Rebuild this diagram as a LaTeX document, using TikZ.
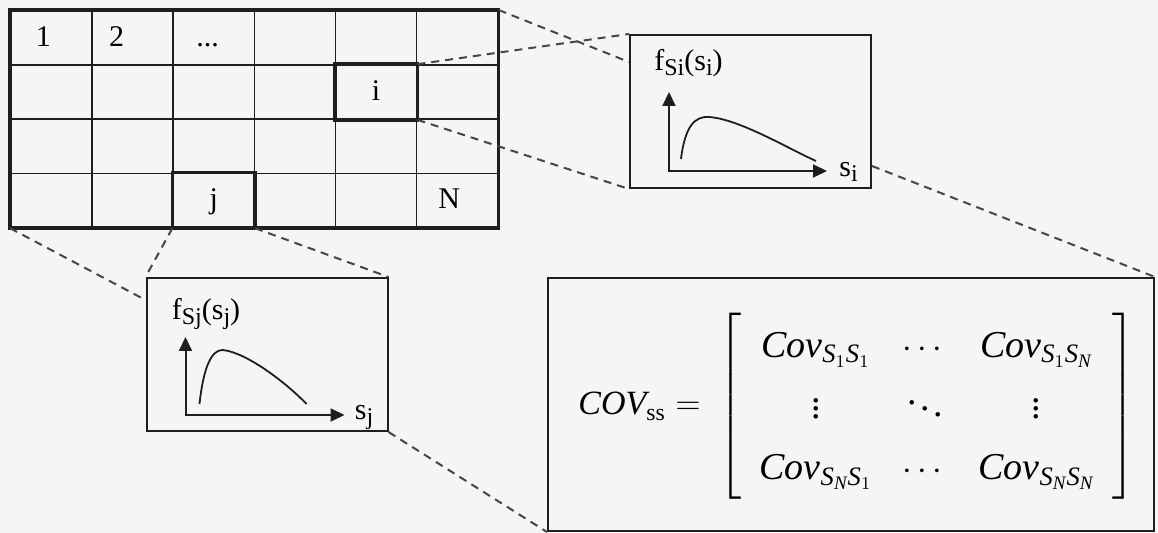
\documentclass[tikz,border=0pt]{standalone}
\usepackage{amsmath}
\usepackage{fontspec}
\setmainfont{Liberation Serif}
\usepackage{tikz}
\usetikzlibrary{
  arrows.meta,
  positioning
}
\definecolor{gridInk}{RGB}{30,30,30}
\definecolor{zoomGray}{RGB}{70,70,70}
\definecolor{paperGray}{RGB}{244,245,247}
\newcommand{\covij}[2]{\mathit{Cov}_{\mathit{S}_{#1}\mathit{S}_{#2}}}
\newcommand{\pdfsub}[1]{\raisebox{-0.35ex}{\fontsize{12}{12}\selectfont #1}}
\tikzset{
  gridCell/.style={
    rectangle,
    draw=gridInk,
    line width=0.7pt,
    anchor=north west,
    inner sep=0pt,
    minimum width=40.6pt,
    minimum height=27.1pt
  },
  gridFrame/.style={
    draw=gridInk,
    line width=1.8pt
  },
  cellText/.style={
    anchor=base,
    yshift=-4.2pt,
    inner sep=0pt,
    font=\fontsize{15}{18}\selectfont
  },
  pdfBox/.style={
    rectangle,
    draw=gridInk,
    line width=1pt,
    minimum width=120.5pt,
    minimum height=76.5pt
  },
  pdfLabel/.style={
    anchor=base west,
    inner sep=0pt,
    font=\fontsize{15}{18}\selectfont
  },
  pdfAxis/.style={
    <->,
    >={Triangle[length=7pt,width=6.5pt]},
    line width=1pt,
    draw=gridInk
  },
  pdfCurve/.style={
    line width=0.9pt,
    draw=gridInk
  },
  covBox/.style={
    rectangle,
    draw=gridInk,
    line width=1pt,
    minimum width=303pt,
    minimum height=126.5pt
  },
  covText/.style={
    inner sep=0pt,
    font=\fontsize{17}{20}\selectfont
  },
  covMatrix/.style={
    inner sep=0pt,
    font=\fontsize{19}{22.8}\selectfont
  },
  zoomLine/.style={
    dash pattern=on 4pt off 3pt,
    line width=1pt,
    draw=zoomGray
  }
}

\begin{document}
\begin{tikzpicture}[x=0.5pt, y=-0.5pt]
  \fill[paperGray] (0,0) rectangle (1158,533);
  \useasboundingbox (0,0) rectangle (1158,533);

  % the field, cut into N cells
  \foreach \r in {1,...,4}
    \foreach \c in {1,...,6}
      \node[gridCell] (c\r\c) at ({10+(\c-1)*81.2},{10+(\r-1)*54.2}) {};
  \draw[gridFrame] (c11.north west) rectangle (c46.south east);
  \draw[gridFrame] (c25.north west) rectangle (c25.south east);
  \draw[gridFrame] (c43.north west) rectangle (c43.south east);

  \node[cellText, xshift=-4pt] at (c11) {1};
  \node[cellText, xshift=-8pt] at (c12) {2};
  \node[cellText, xshift=-3pt] at (c13) {...};
  \node[cellText] at (c25) {i};
  \node[cellText] at (c43) {j};
  \node[cellText, xshift=-4pt] at (c46) {N};

  % pdf of cell i
  \node[pdfBox] (boxI) at (750.5,111.5) {};
  \begin{scope}[shift={(boxI.north west)}]
    \node[pdfLabel] (fI) at (25,37) {f\pdfsub{Si}(s\pdfsub{i})};
    \node[pdfLabel] (sI) at (210,143) {s\pdfsub{i}};
    \draw[pdfAxis] (40,58) -- (40,137) -- (198,137);
    \draw[pdfCurve] (52,125) .. controls (56,92) and (66,82) .. (80,83)
      .. controls (110,85) and (160,115) .. (187,127);
  \end{scope}

  % pdf of cell j
  \node[pdfBox] (boxJ) at (267,354.5) {};
  \begin{scope}[shift={(boxJ.north west)}]
    \node[pdfLabel] (fJ) at (26,43) {f\pdfsub{Sj}(s\pdfsub{j})};
    \node[pdfLabel] (sJ) at (209,143) {s\pdfsub{j}};
    \draw[pdfAxis] (40,60) -- (40,138) -- (199,138);
    \draw[pdfCurve] (54,127) .. controls (58,90) and (66,73) .. (77,73)
      .. controls (100,75) and (140,105) .. (161,127);
  \end{scope}

  % covariance matrix
  \node[covBox] (covBox) at (851,404.5) {};
  \node[covText, anchor=base west] (covLhs) at (578,415)
    {$\mathit{COV}_{\mathrm{ss}}=$};
  \node[covMatrix] (covMat) at (927,406)
    {\renewcommand{\arraystretch}{1.34}%
     $\left[\begin{array}{@{\hspace{9pt}}c@{\hspace{15pt}}c@{\hspace{15pt}}c@{\hspace{9pt}}}
       \covij{1}{1} & \cdots & \covij{1}{\mathit{N}}\\
       \vdots & \ddots & \vdots\\
       \covij{\mathit{N}}{1} & \cdots & \covij{\mathit{N}}{\mathit{N}}
     \end{array}\right]$};

  % zoom lines
  \coordinate (iMid) at ([yshift=-14pt]boxI.north west);
  \coordinate (iLow) at ([yshift=11.5pt]boxI.south east);
  \coordinate (jHigh) at ([yshift=-11.5pt]boxJ.north west);
  \draw[zoomLine] (c25.north east) -- (boxI.north west);
  \draw[zoomLine] (c16.north east) -- (iMid);
  \draw[zoomLine] (c25.south east) -- (boxI.south west);
  \draw[zoomLine] (iLow) -- (covBox.north east);
  \draw[zoomLine] (c41.south west) -- (jHigh);
  \draw[zoomLine] (c43.south west) -- (boxJ.north west);
  \draw[zoomLine] (c43.south east) -- (boxJ.north east);
  \draw[zoomLine] (boxJ.south east) -- (covBox.south west);
\end{tikzpicture}
\end{document}
